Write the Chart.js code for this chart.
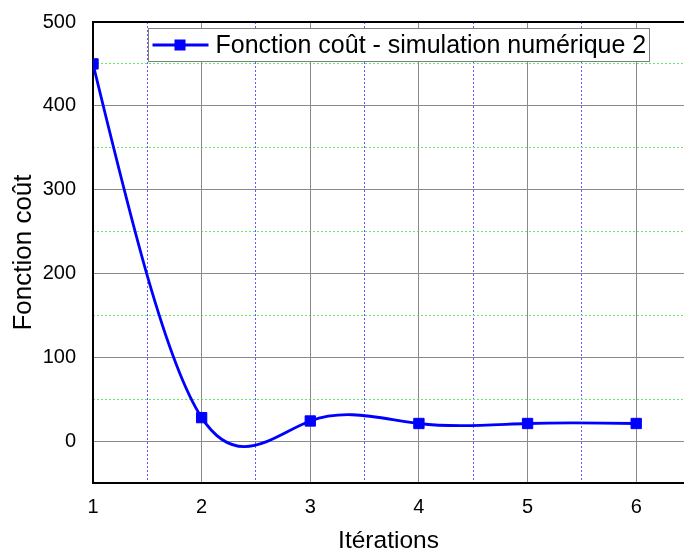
<!DOCTYPE html>
<html>
<head>
<meta charset="utf-8">
<script src="https://cdn.jsdelivr.net/npm/chart.js@4.4.0/dist/chart.umd.min.js"></script>
<style>
  html, body { margin: 0; padding: 0; background: #fff; overflow: hidden; }
  canvas { display: block; }
</style>
</head>
<body>
<canvas id="chart" width="684" height="553"></canvas>
<script>
const iterations = [1, 2, 3, 4, 5, 6];
const costValues = [450, 28, 24, 21, 21, 21];

const xTicks = [1, 2, 3, 4, 5, 6];
const xMinorTicks = [1.5, 2.5, 3.5, 4.5, 5.5];
const yTicks = [0, 100, 200, 300, 400, 500];
const yMinorTicks = [50, 150, 250, 350, 450];

const seriesLabel = 'Fonction coût - simulation numérique 2';
const FONT = '"Liberation Sans", Arial, sans-serif';
const BLUE = '#0000ff';

// second derivatives of a natural cubic spline through the points
function splineSecondDerivs(xs, ys) {
    var n = xs.length;
    var m = new Array(n).fill(0);
    if (n < 3) return m;
    var a = [], b = [], c = [], d = [];
    for (var i = 1; i < n - 1; i++) {
        var h0 = xs[i] - xs[i - 1], h1 = xs[i + 1] - xs[i];
        a.push(h0);
        b.push(2 * (h0 + h1));
        c.push(h1);
        d.push(6 * ((ys[i + 1] - ys[i]) / h1 - (ys[i] - ys[i - 1]) / h0));
    }
    // thomas algorithm
    var k = b.length;
    for (var i = 1; i < k; i++) {
        var w = a[i] / b[i - 1];
        b[i] -= w * c[i - 1];
        d[i] -= w * d[i - 1];
    }
    var sol = new Array(k);
    sol[k - 1] = d[k - 1] / b[k - 1];
    for (var i = k - 2; i >= 0; i--) {
        sol[i] = (d[i] - c[i] * sol[i + 1]) / b[i];
    }
    for (var i = 0; i < k; i++) m[i + 1] = sol[i];
    return m;
}

const splinePlugin = {
    id: 'splineLine',
    beforeDatasetsDraw(chart) {
        var xs = chart.scales.x, ys = chart.scales.y;
        var m = splineSecondDerivs(iterations, costValues);
        var ctx = chart.ctx;
        var area = chart.chartArea;
        ctx.save();
        ctx.beginPath();
        ctx.rect(area.left, area.top, area.right - area.left, area.bottom - area.top);
        ctx.clip();
        ctx.beginPath();
        ctx.moveTo(xs.getPixelForValue(iterations[0]), ys.getPixelForValue(costValues[0]));
        for (var i = 0; i < iterations.length - 1; i++) {
            var x0 = iterations[i], x1 = iterations[i + 1];
            var y0 = costValues[i], y1 = costValues[i + 1];
            var h = x1 - x0;
            var s0 = (y1 - y0) / h - h * (2 * m[i] + m[i + 1]) / 6;
            var s1 = (y1 - y0) / h + h * (m[i] + 2 * m[i + 1]) / 6;
            var c1x = x0 + h / 3, c1y = y0 + s0 * h / 3;
            var c2x = x1 - h / 3, c2y = y1 - s1 * h / 3;
            ctx.bezierCurveTo(
                xs.getPixelForValue(c1x), ys.getPixelForValue(c1y),
                xs.getPixelForValue(c2x), ys.getPixelForValue(c2y),
                xs.getPixelForValue(x1), ys.getPixelForValue(y1)
            );
        }
        ctx.strokeStyle = BLUE;
        ctx.lineWidth = 2.8;
        ctx.lineJoin = 'round';
        ctx.stroke();
        ctx.restore();
    }
};

// legend box drawn inside the plot, top left
const legendBoxPlugin = {
    id: 'legendBox',
    afterDatasetsDraw(chart) {
        var ctx = chart.ctx;
        var area = chart.chartArea;
        var bx = area.left + 55.5, by = area.top + 6.5;
        var bw = 501, bh = 33;
        ctx.save();
        ctx.fillStyle = '#fff';
        ctx.fillRect(bx, by, bw, bh);
        ctx.strokeStyle = '#808080';
        ctx.lineWidth = 1;
        ctx.strokeRect(bx, by, bw, bh);
        var cy = by + bh / 2;
        ctx.beginPath();
        ctx.moveTo(bx + 4, cy);
        ctx.lineTo(bx + 60, cy);
        ctx.strokeStyle = BLUE;
        ctx.lineWidth = 2.8;
        ctx.stroke();
        ctx.fillStyle = BLUE;
        ctx.fillRect(bx + 26, cy - 5.5, 11, 11);
        ctx.fillStyle = '#000';
        ctx.font = '25px ' + FONT;
        ctx.textBaseline = 'middle';
        ctx.textAlign = 'left';
        ctx.fillText(seriesLabel, bx + 67, cy + 1);
        ctx.restore();
    }
};

const chartData = {
    datasets: [{
        label: seriesLabel,
        data: iterations.map((x, i) => ({ x: x, y: costValues[i] })),
        showLine: false,
        pointStyle: 'rect',
        pointRadius: 7.3,
        pointBackgroundColor: BLUE,
        pointBorderColor: BLUE,
        pointBorderWidth: 1,
        borderColor: BLUE,
        backgroundColor: BLUE
    }]
};

function noPadding(scale) {
    scale.paddingLeft = 0;
    scale.paddingRight = 0;
    scale.paddingTop = 0;
    scale.paddingBottom = 0;
}

const config = {
    type: 'line',
    data: chartData,
    options: {
        responsive: false,
        animation: false,
        layout: { autoPadding: false, padding: { left: 0, top: 22, right: 0, bottom: 0 } },
        plugins: {
            legend: { display: false },
            tooltip: { enabled: false }
        },
        scales: {
            xMinor: {
                type: 'linear',
                position: 'bottom',
                min: 1,
                max: 6.44,
                afterBuildTicks: (scale) => { scale.ticks = xMinorTicks.map(v => ({ value: v })); },
                afterFit: (scale) => { scale.height = 0; noPadding(scale); },
                ticks: { display: false },
                grid: { color: '#5a5aff', lineWidth: 1, drawTicks: false },
                border: { display: false, dash: [2, 2] }
            },
            yMinor: {
                type: 'linear',
                position: 'left',
                min: -50,
                max: 500,
                afterBuildTicks: (scale) => { scale.ticks = yMinorTicks.map(v => ({ value: v })); },
                afterFit: (scale) => { scale.width = 0; noPadding(scale); },
                ticks: { display: false },
                grid: { color: '#66e866', lineWidth: 1, drawTicks: false },
                border: { display: false, dash: [2, 2] }
            },
            x: {
                type: 'linear',
                position: 'bottom',
                min: 1,
                max: 6.44,
                afterBuildTicks: (scale) => { scale.ticks = xTicks.map(v => ({ value: v })); },
                afterFit: (scale) => { scale.height = 70; noPadding(scale); },
                ticks: {
                    color: '#000',
                    padding: 12,
                    maxRotation: 0,
                    font: { family: FONT, size: 20 },
                    callback: (v) => String(v)
                },
                grid: { color: '#8a8a8a', lineWidth: 1, drawTicks: false },
                border: { color: '#000', width: 2 },
                title: {
                    display: true,
                    text: 'Itérations',
                    color: '#000',
                    font: { family: FONT, size: 24.5, lineHeight: 1 },
                    padding: { top: 0, bottom: 0 }
                }
            },
            y: {
                type: 'linear',
                position: 'left',
                min: -50,
                max: 500,
                afterBuildTicks: (scale) => { scale.ticks = yTicks.map(v => ({ value: v })); },
                afterFit: (scale) => { scale.width = 93; noPadding(scale); },
                ticks: {
                    color: '#000',
                    padding: 17,
                    font: { family: FONT, size: 20 },
                    callback: (v) => String(v)
                },
                grid: {
                    color: (ctx) => ctx.tick && ctx.tick.value === 500 ? '#000' : '#8a8a8a',
                    lineWidth: (ctx) => ctx.tick && ctx.tick.value === 500 ? 2 : 1,
                    drawTicks: false
                },
                border: { color: '#000', width: 2 },
                title: {
                    display: true,
                    text: 'Fonction coût',
                    color: '#000',
                    font: { family: FONT, size: 26, lineHeight: 1 },
                    padding: { top: 11, bottom: 0 }
                }
            }
        }
    },
    plugins: [splinePlugin, legendBoxPlugin]
};

var chart = new Chart(document.getElementById('chart'), config);
</script>
</body>
</html>
